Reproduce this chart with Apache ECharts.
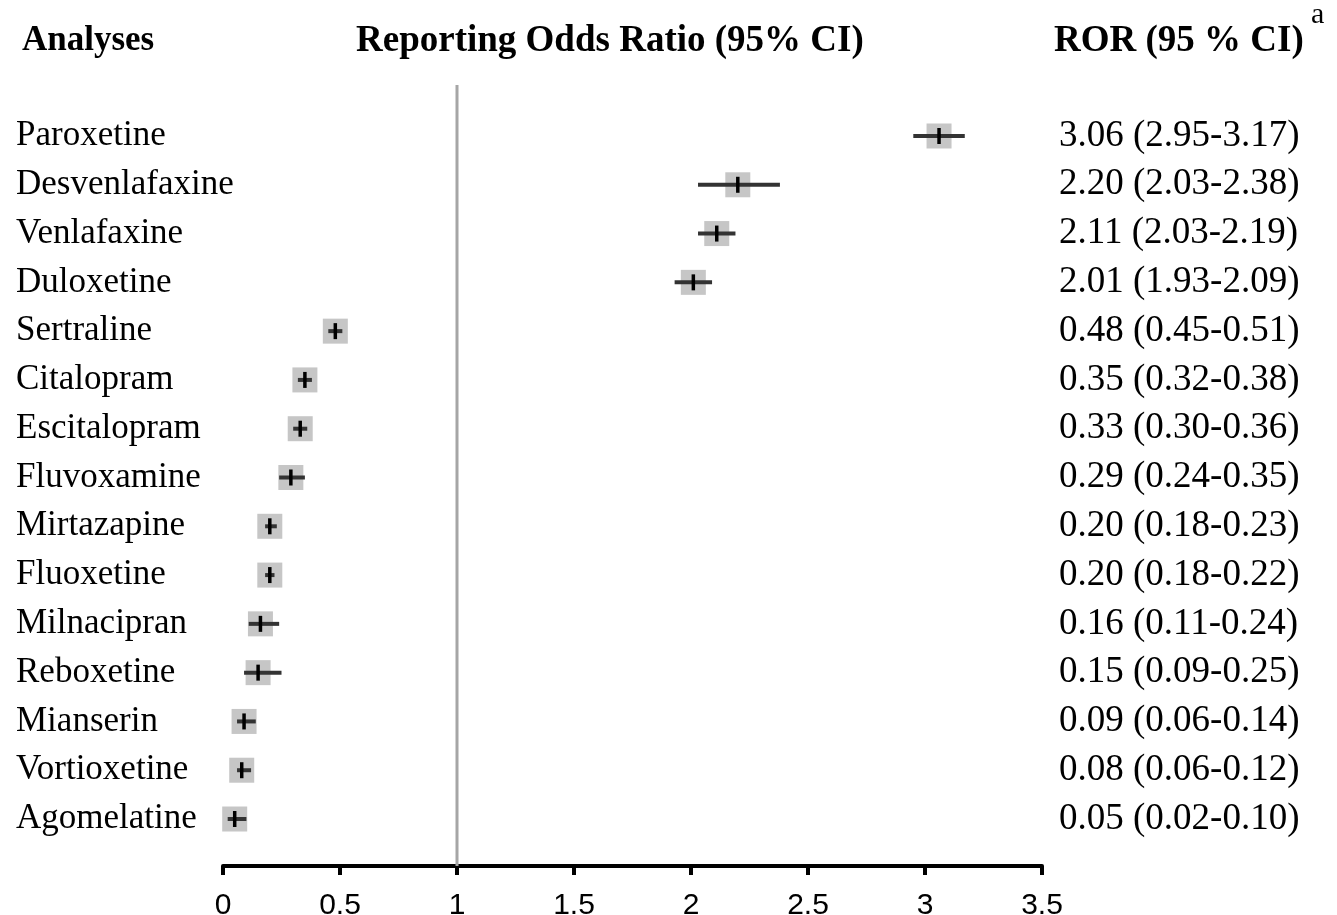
<!DOCTYPE html>
<html><head><meta charset="utf-8">
<script src="https://cdn.jsdelivr.net/npm/echarts@6/dist/echarts.min.js"></script>
<style>html,body{margin:0;padding:0;background:#fff}#c{width:1337px;height:915px}</style>
</head><body><div id="c"></div>
<script>
const drugs = ['Paroxetine','Desvenlafaxine','Venlafaxine','Duloxetine','Sertraline','Citalopram','Escitalopram','Fluvoxamine','Mirtazapine','Fluoxetine','Milnacipran','Reboxetine','Mianserin','Vortioxetine','Agomelatine'];
const ror   = [3.06, 2.20, 2.11, 2.01, 0.48, 0.35, 0.33, 0.29, 0.20, 0.20, 0.16, 0.15, 0.09, 0.08, 0.05];
const lower = [2.95, 2.03, 2.03, 1.93, 0.45, 0.32, 0.30, 0.24, 0.18, 0.18, 0.11, 0.09, 0.06, 0.06, 0.02];
const upper = [3.17, 2.38, 2.19, 2.09, 0.51, 0.38, 0.36, 0.35, 0.23, 0.22, 0.24, 0.25, 0.14, 0.12, 0.10];
const refValue = 1;
const xMin = 0, xMax = 3.5, xStep = 0.5;

const rorText = ror.map((v, i) => v.toFixed(2) + ' (' + lower[i].toFixed(2) + '-' + upper[i].toFixed(2) + ')');
const SERIF = '"Liberation Serif","Times New Roman",serif';
const SANS = '"Liberation Sans",Arial,sans-serif';

const chart = echarts.init(document.getElementById('c'));
chart.setOption({
  backgroundColor: '#fff',
  animation: false,
  title: [
    { text: 'Analyses', left: 22, top: 23, padding: 0, textStyle: { fontFamily: SERIF, fontWeight: 'bold', fontSize: 35, color: '#000' } },
    { text: 'Reporting Odds Ratio (95% CI)', left: 356, top: 23, padding: 0, textStyle: { fontFamily: SERIF, fontWeight: 'bold', fontSize: 37, color: '#000' } },
    { text: 'ROR (95 % CI)', left: 1054, top: 23, padding: 0, textStyle: { fontFamily: SERIF, fontWeight: 'bold', fontSize: 37, color: '#000' } },
    { text: 'a', left: 1311, top: 0, padding: 0, textStyle: { fontFamily: SERIF, fontWeight: 'normal', fontSize: 30, color: '#000' } }
  ],
  grid: { left: 223, right: 295, top: 111.6, bottom: 71.6, outerBoundsMode: 'none', containLabel: false },
  xAxis: {
    type: 'value', min: xMin, max: xMax, interval: xStep, offset: 22.6,
    axisLine: { show: true, lineStyle: { color: '#000', width: 4 } },
    axisTick: { show: true, length: 9, lineStyle: { color: '#000', width: 4 } },
    splitLine: { show: false },
    axisLabel: { margin: 25, fontFamily: SANS, fontSize: 30, color: '#000' }
  },
  yAxis: [
    {
      type: 'category', inverse: true, data: drugs,
      axisLine: { show: false }, axisTick: { show: false }, splitLine: { show: false },
      axisLabel: { align: 'left', margin: 207, fontFamily: SERIF, fontSize: 35, color: '#000', padding: [9, 0, 0, 0] }
    },
    {
      type: 'category', inverse: true, position: 'right', data: rorText,
      axisLine: { show: false }, axisTick: { show: false }, splitLine: { show: false },
      axisLabel: { align: 'left', margin: 17, fontFamily: SERIF, fontSize: 37, color: '#000', padding: [9, 0, 0, 0] }
    }
  ],
  series: [
    {
      type: 'custom', xAxisIndex: 0, yAxisIndex: 0, z: 1,
      data: [[refValue, 0]],
      encode: { x: 0, y: 1 },
      renderItem: function (params, api) {
        const p = api.coord([api.value(0), 0]);
        const cs = params.coordSys;
        return {
          type: 'line',
          shape: { x1: p[0], y1: cs.y - 26.6, x2: p[0], y2: cs.y + cs.height + 22.6 },
          style: { stroke: '#a6a6a6', lineWidth: 3 }
        };
      }
    },
    {
      type: 'custom', xAxisIndex: 0, yAxisIndex: 0, z: 3,
      data: drugs.map((d, i) => [i, lower[i], upper[i], ror[i]]),
      encode: { y: 0, x: [1, 2, 3] },
      renderItem: function (params, api) {
        const i = api.value(0);
        const pLo = api.coord([api.value(1), i]);
        const pHi = api.coord([api.value(2), i]);
        const pE = api.coord([api.value(3), i]);
        const s = 25;
        return {
          type: 'group',
          children: [
            { type: 'rect', shape: { x: pE[0] - s / 2, y: pE[1] - s / 2, width: s, height: s }, style: { fill: '#c6c6c6' } },
            { type: 'line', shape: { x1: pLo[0], y1: pLo[1], x2: pHi[0], y2: pHi[1] }, style: { stroke: '#333', lineWidth: 4 } },
            { type: 'line', shape: { x1: pE[0], y1: pE[1] - 8, x2: pE[0], y2: pE[1] + 8 }, style: { stroke: '#000', lineWidth: 3.5 } }
          ]
        };
      }
    }
  ]
});
</script>
</body></html>
